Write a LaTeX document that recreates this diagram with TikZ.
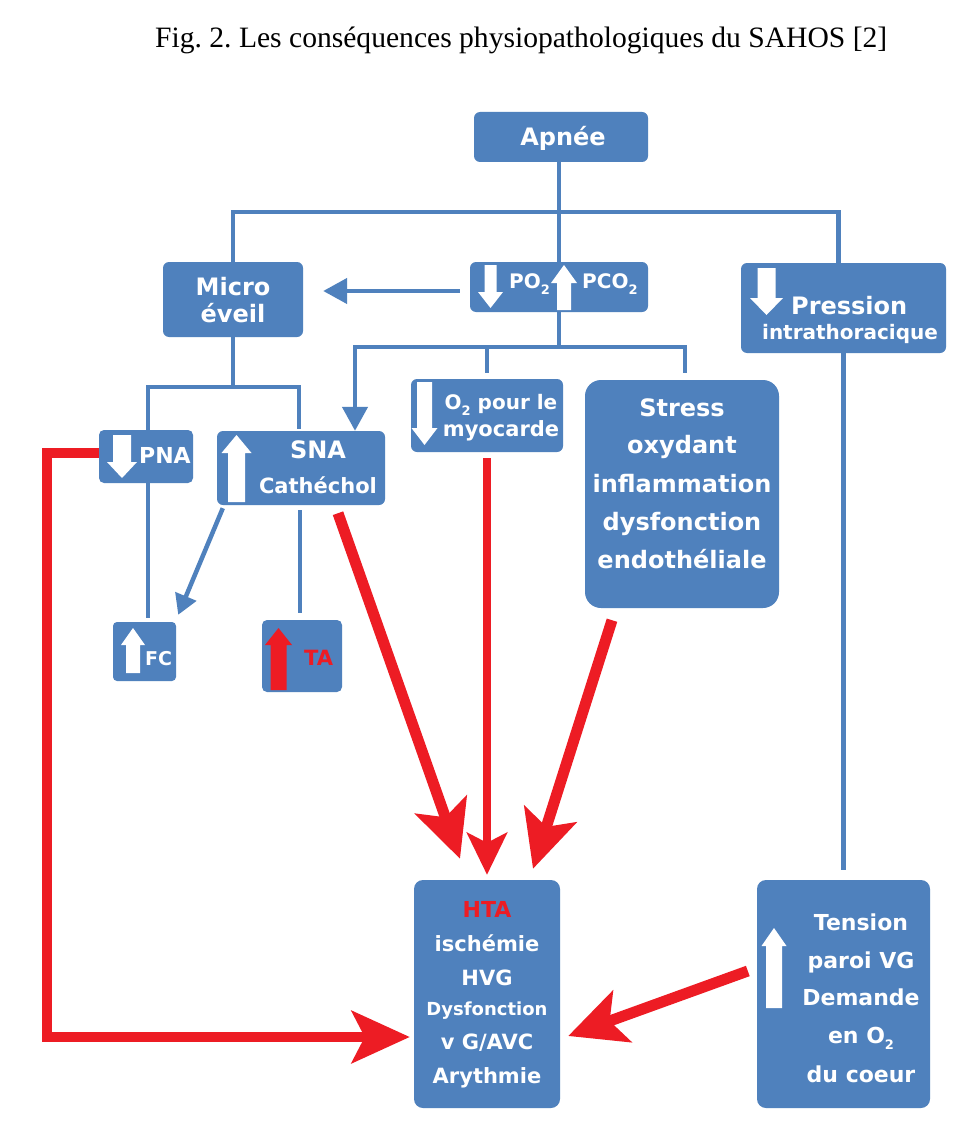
\documentclass[tikz,border=0pt]{standalone}
\usepackage{fontspec}
\usetikzlibrary{arrows.meta,calc}
\newfontfamily\dv{DejaVu Sans}
\newfontfamily\ttl{Liberation Serif}
\definecolor{bb}{RGB}{79,129,189}
\definecolor{rr}{RGB}{237,28,36}
\frenchspacing
\newcommand\ft[1]{\fontsize{#1}{#1}\selectfont}
\newcommand\sbs[1]{\raisebox{-0.3em}{\fontsize{13}{13}\selectfont #1}}
\newcommand\blkup[7]{\fill[#1] (#2,#3) -- ({#2+#6/2},{#3+#7}) -- ({#2+#5/2},{#3+#7}) -- ({#2+#5/2},#4) -- ({#2-#5/2},#4) -- ({#2-#5/2},{#3+#7}) -- ({#2-#6/2},{#3+#7}) -- cycle;}
\newcommand\blkdown[7]{\fill[#1] ({#2-#5/2},#3) -- ({#2+#5/2},#3) -- ({#2+#5/2},{#4-#7}) -- ({#2+#6/2},{#4-#7}) -- (#2,#4) -- ({#2-#6/2},{#4-#7}) -- ({#2-#5/2},{#4-#7}) -- cycle;}
\begin{document}
\begin{tikzpicture}[x=1pt,y=-1pt,
  box/.style={fill=bb,inner sep=0pt,rounded corners=6pt},
  bl/.style={draw=bb,line width=4.5pt},
  rl/.style={draw=rr,line width=11pt,line join=miter},
  t/.style={text=white,font=\dv\bfseries\ft{#1},anchor=base,inner sep=0pt},
  tr/.style={t=#1,text=rr},
  bighead/.style={-{Stealth[length=57pt,width=54pt,inset=13pt]}},
  bhead/.style={-{Triangle[length=24pt,width=25pt]}}]
\fill[white] (0,0) rectangle (966,1126);
\useasboundingbox (0,0) rectangle (966,1126);

% title
\node[anchor=base west,inner sep=0pt] (title) at (155,48) {\resizebox{732pt}{!}{\ttl\fontsize{29}{29}\selectfont Fig. 2. Les conséquences physiopathologiques du SAHOS [2]}};

% boxes
\node[box,minimum width=174pt,minimum height=50pt] (apnee) at (561,137) {};
\node[box,minimum width=140pt,minimum height=75pt] (micro) at (233,299.5) {};
\node[box,minimum width=178pt,minimum height=50pt] (po2) at (559,287) {};
\node[box,minimum width=205pt,minimum height=90pt] (press) at (843.5,308) {};
\node[box,minimum width=94pt,minimum height=53pt,rounded corners=5pt] (pna) at (146,456.5) {};
\node[box,minimum width=168pt,minimum height=74pt] (sna) at (301,468) {};
\node[box,minimum width=152pt,minimum height=73pt] (o2) at (487,415.5) {};
\node[box,minimum width=194pt,minimum height=228pt,rounded corners=16pt] (stress) at (682,494) {};
\node[box,minimum width=63pt,minimum height=59pt,rounded corners=4pt] (fc) at (144.5,651.5) {};
\node[box,minimum width=80pt,minimum height=72pt,rounded corners=5pt] (ta) at (302,656) {};
\node[box,minimum width=146pt,minimum height=228pt,rounded corners=9pt] (hta) at (487,994) {};
\node[box,minimum width=173pt,minimum height=228pt,rounded corners=9pt] (tension) at (843.5,994) {};

% blue connectors
\draw[bl] (apnee.south -| po2.north) -- (po2.north);
\draw[bl] (micro.north) -- ++(0,-50) -| ($(press.north)+(-5,0)$);
\draw[bl,bhead] ($(po2.west)+(-10,4)$) -- ($(micro.east)+(20,-8.5)$);
\draw[bl] (po2.south) -- ++(0,35);
\draw[bl,bhead] ($(po2.south)+(0,35)$) -| ($(sna.north)+(54,0)$);
\draw[bl] ($(po2.south)+(0,35)$) -| ($(stress.north)+(3,-7)$);
\draw[bl] ($(o2.north |- po2.south)+(0,35)$) -- ($(o2.north)+(0,-6)$);
\draw[bl] (micro.south) -- ++(0,50);
\draw[bl] ($(pna.north)+(2,0)$) |- ($(micro.south)+(0,50)$) -| ($(sna.north)+(-2,-2)$);
\draw[bl] ($(pna.south)+(2,0)$) -- ($(fc.north)+(3.5,-4)$);
\draw[bl,-{Triangle[length=20pt,width=22pt]}] ($(sna.south west)+(6,3)$) -- ($(fc.north east)+(2,-7)$);
\draw[bl] ($(sna.south)+(-1,5)$) -- ($(ta.north)+(-2,-7)$);
\draw[bl] (press.south) -- ($(tension.north)+(0,-10)$);

% red connectors
\draw[rl,bighead] ($(sna.south)+(37,8)$) -- ($(hta.north)+(-27,-21)$);
\draw[rl,line width=8pt,-{Stealth[length=42pt,width=40pt,inset=10pt]}] ($(o2.south)+(0,6)$) -- ($(hta.north)+(0,-5)$);
\draw[rl,bighead] ($(stress.south)+(-70,12)$) -- ($(hta.north)+(46,-11)$);
\draw[rl,bighead] ($(tension.west)+(-9,-23)$) -- ($(hta.east)+(8,42)$);
\draw[rl,line width=10pt,-{Stealth[length=58pt,width=52pt,inset=13pt]}] ($(pna.west)+(0,-4)$) -- ++(-52,0) |- ($(hta.west)+(-4,43)$);

% white block arrows
\blkdown{white}{490.5}{265}{308}{12}{25}{16}
\blkup{white}{564}{265}{310}{14}{26}{18}
\blkdown{white}{122}{435}{478}{18}{30}{16}
\blkup{white}{236.5}{435}{502}{17}{30}{18}
\blkdown{white}{424.5}{382}{445}{15}{26}{17}
\blkup{white}{133}{628}{673}{14}{24}{17}
\blkup{rr}{278.5}{628}{690}{16}{27}{17}
\blkdown{white}{766.5}{268}{315}{18}{33}{17}
\blkup{white}{774}{928}{1008}{16}{25}{18}

% texts
\node[t=24] (tapnee) at (563,146) {Apnée};
\node[t=24] (tmicro1) at (233,295) {Micro};
\node[t=24] (tmicro2) at (233,322) {éveil};
\node[t=20,anchor=base west] (tpo2) at (509,288) {PO\sbs{2}};
\node[t=20,anchor=base west] (tpco2) at (582,288) {PCO\sbs{2}};
\node[t=22,anchor=base west] (tpna) at (139,463) {PNA};
\node[t=24] (tsna1) at (318,458) {SNA};
\node[t=21] (tsna2) at (318,493) {Cathéchol};
\node[t=20] (to21) at (501,409) {O\sbs{2} pour le};
\node[t=21] (to22) at (501,436) {myocarde};
\node[t=24] (ts1) at (682,416) {Stress};
\node[t=24] (ts2) at (682,453) {oxydant};
\node[t=24] (ts3) at (682,492) {inflammation};
\node[t=24] (ts4) at (682,530) {dysfonction};
\node[t=24] (ts5) at (682,568) {endothéliale};
\node[t=19,anchor=base west] (tfc) at (145,665) {FC};
\node[tr=21,anchor=base west] (tta) at (304,665) {TA};
\node[t=24,anchor=base west] (tpr1) at (791,314) {Pression};
\node[t=20] (tpr2) at (850,339) {intrathoracique};
\node[tr=22] (th1) at (487,917) {HTA};
\node[t=21] (th2) at (487,951) {ischémie};
\node[t=21] (th3) at (487,985) {HVG};
\node[t=18] (th4) at (487,1015) {Dysfonction};
\node[t=21] (th5) at (487,1049) {v G/AVC};
\node[t=21] (th6) at (487,1083) {Arythmie};
\node[t=22] (tt1) at (861,930) {Tension};
\node[t=22] (tt2) at (861,968) {paroi VG};
\node[t=22] (tt3) at (861,1005) {Demande};
\node[t=22] (tt4) at (861,1043) {en O\sbs{2}};
\node[t=22] (tt5) at (861,1082) {du coeur};
\end{tikzpicture}
\end{document}
